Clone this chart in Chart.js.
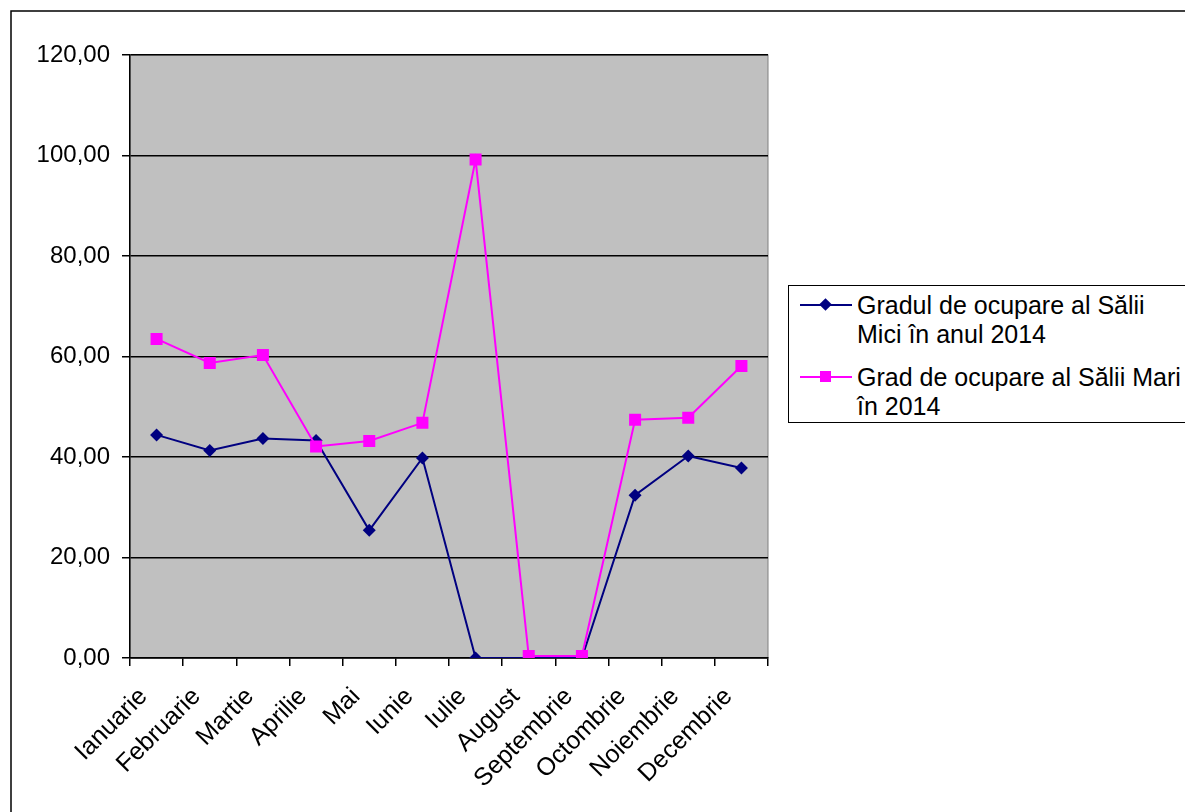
<!DOCTYPE html>
<html>
<head>
<meta charset="utf-8">
<script src="https://cdn.jsdelivr.net/npm/chart.js@4"></script>
<style>
  body { margin: 0; background: #fff; }
  #wrap { position: relative; width: 1185px; height: 812px; overflow: hidden; }
  #legend {
    position: absolute; left: 788px; top: 285px; width: 410px; height: 138px;
    border: 1.5px solid #000; background: #fff; box-sizing: border-box;
    font-family: "Liberation Sans", Arial, sans-serif; font-size: 25px; color: #000;
  }
  .item { position: absolute; left: 0; }
  .sample { position: absolute; left: 11px; width: 52px; height: 2px; }
  .mark { position: absolute; }
  .txt { position: absolute; left: 68px; line-height: 29px; white-space: nowrap; }
</style>
</head>
<body>
<div id="wrap">
  <canvas id="c" width="1185" height="812"></canvas>
  <div id="legend"></div>
</div>
<script>
const months = ['Ianuarie', 'Februarie', 'Martie', 'Aprilie', 'Mai', 'Iunie', 'Iulie',
    'August', 'Septembrie', 'Octombrie', 'Noiembrie', 'Decembrie'];
const saliiMici = [44.4, 41.3, 43.7, 43.3, 25.4, 39.8, 0, 0, 0, 32.4, 40.2, 37.8];
const saliiMari = [63.5, 58.7, 60.3, 42.1, 43.2, 46.8, 99.2, 0.4, 0.4, 47.4, 47.8, 58.1];
const names = [['Gradul de ocupare al Sălii', 'Mici în anul 2014'],
    ['Grad de ocupare al Sălii Mari', 'în 2014']];
const colors = ['#000080', '#FF00FF'];
const yTicks = [0, 20, 40, 60, 80, 100, 120];

const font = '"Liberation Sans", Arial, sans-serif';

const frame = {
    id: 'frame',
    beforeDraw(chart) {
        const ctx = chart.ctx;
        const a = chart.chartArea;
        ctx.save();
        ctx.fillStyle = '#fff';
        ctx.fillRect(0, 0, chart.width, chart.height);
        ctx.strokeStyle = '#000';
        ctx.lineWidth = 1.5;
        ctx.strokeRect(11, 11, chart.width + 20, chart.height + 20);
        ctx.fillStyle = '#C0C0C0';
        ctx.fillRect(a.left, a.top, a.right - a.left, a.bottom - a.top);
        ctx.strokeStyle = '#808080';
        ctx.lineWidth = 1;
        ctx.strokeRect(a.left, a.top, a.right - a.left, a.bottom - a.top);
        ctx.restore();
    }
};

new Chart(document.getElementById('c'), {
    type: 'line',
    data: {
        labels: months,
        datasets: [{
            label: names[0].join(' '),
            data: saliiMici,
            borderColor: colors[0],
            backgroundColor: colors[0],
            borderWidth: 2,
            pointStyle: 'rectRot',
            pointRadius: 6.5,
            pointBorderWidth: 0,
            order: 1
        }, {
            label: names[1].join(' '),
            data: saliiMari,
            borderColor: colors[1],
            backgroundColor: colors[1],
            borderWidth: 2,
            pointStyle: 'rect',
            pointRadius: 8.5,
            pointBorderWidth: 0,
            order: 0
        }]
    },
    options: {
        responsive: false,
        animation: false,
        layout: { padding: { top: 55, right: 417, left: 0, bottom: 0 } },
        plugins: { legend: { display: false }, tooltip: { enabled: false } },
        elements: { line: { tension: 0 } },
        scales: {
            x: {
                offset: true,
                afterFit: s => { s.height = 154; },
                grid: { offset: true, drawOnChartArea: false, color: '#000', lineWidth: 1.5, tickLength: 8 },
                border: { color: '#000', width: 1.5 },
                ticks: {
                    color: '#000', font: { family: font, size: 25 },
                    minRotation: 45, maxRotation: 45, autoSkip: false, padding: 16, labelOffset: -13
                }
            },
            y: {
                min: 0, max: 120,
                afterFit: s => { s.width = 130; },
                afterBuildTicks: s => { s.ticks = yTicks.map(v => ({ value: v })); },
                grid: { color: '#000', lineWidth: 1.5, tickLength: 8 },
                border: { color: '#000', width: 1.5 },
                ticks: {
                    color: '#000', font: { family: font, size: 24 }, padding: 12,
                    callback: v => v.toFixed(2).replace('.', ',')
                }
            }
        }
    },
    plugins: [frame]
});

// legend box
const legend = document.getElementById('legend');
const tops = [5, 77];
names.forEach((lines, i) => {
    const item = document.createElement('div');
    item.className = 'item';
    item.style.top = tops[i] + 'px';
    const sample = document.createElement('div');
    sample.className = 'sample';
    sample.style.top = '13px';
    sample.style.background = colors[i];
    const mark = document.createElement('div');
    mark.className = 'mark';
    mark.style.background = colors[i];
    if (i === 0) {
        mark.style.cssText += 'left:32px;top:9px;width:9px;height:9px;transform:rotate(45deg);';
    } else {
        mark.style.cssText += 'left:31px;top:8px;width:11px;height:11px;';
    }
    const txt = document.createElement('div');
    txt.className = 'txt';
    txt.style.top = '0px';
    txt.innerHTML = lines.join('<br>');
    item.appendChild(sample);
    item.appendChild(mark);
    item.appendChild(txt);
    legend.appendChild(item);
});
</script>
</body>
</html>
